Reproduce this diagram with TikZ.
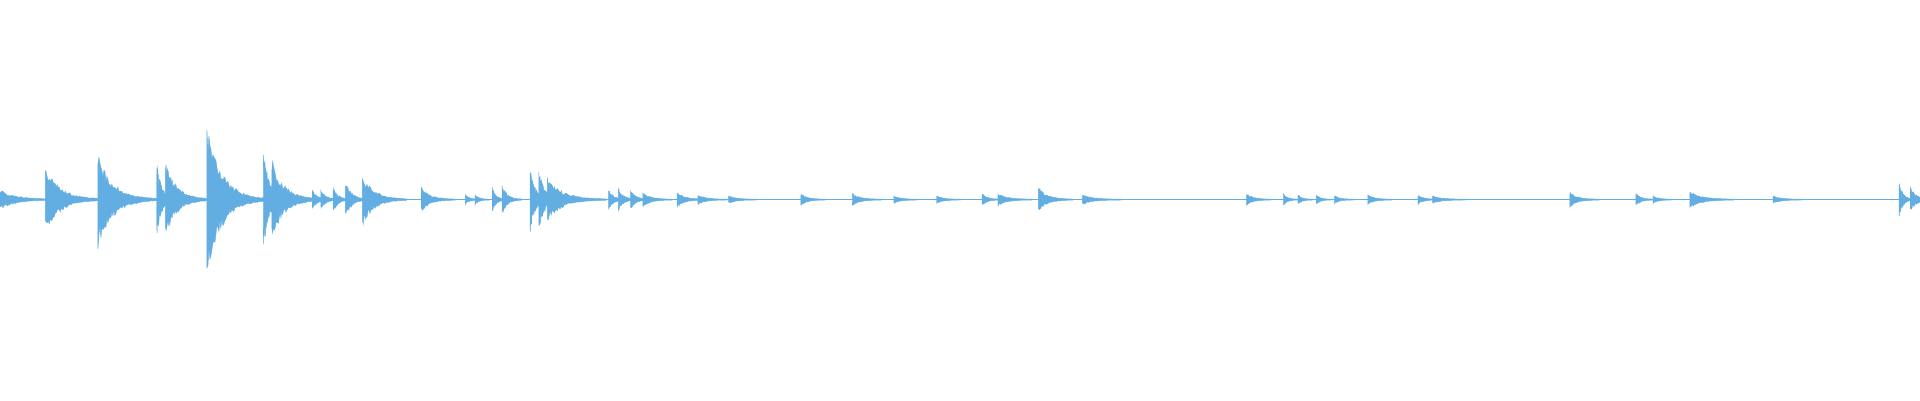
\documentclass[tikz,border=0pt]{standalone}
\usepackage{tikz}
\definecolor{wavecol}{HTML}{62AEE3}
\tikzset{
  wave/.style={fill=wavecol, draw=wavecol, line width=0.1pt}
}
\begin{document}
\begin{tikzpicture}[x=0.1mm, y=0.1mm]
  \useasboundingbox (0,0) rectangle (1568,327);
  \pgfmathsetseed{7}
  % baseline
  \fill[wavecol] (0,163.75) rectangle (1568,164.25);
  % onsets: position / amplitude / decay
  \begin{scope}[shift={(0,164)}]
  \foreach \p/\a/\d in {0/8/12, 37/27/12, 80/40/12, 128/30/4, 135/32/9, 169/62/12,
      215/42/5, 222/33/10, 255/8/4, 262/8/4, 272/10/4, 282/15/5, 296/22/9,
      344/10/7, 380/4/3, 388/4/3, 402/10/3, 410/12/4, 433/27/4, 440/25/5,
      447/18/12, 497/8/4, 505/9/4, 515/8/4, 525/6/6, 553/6/6, 570/4/6,
      595/3/6, 654/5/5, 696/5/6, 730/3/5, 765/3/5, 802/5/4, 815/5/7,
      848/10/7, 884/4/8, 1018/5/5, 1048/5/3, 1060/4/3, 1075/4/3, 1090/3/4,
      1117/4/5, 1158/4/4, 1170/3/7, 1282/6/6, 1336/5/4, 1350/3/4,
      1380/7/9, 1448/3/6, 1551/14/3, 1560/10/5} {
    \fill[wave] plot[domain=0:4*\d, samples=60] ({\p+\x},{\a*exp(-\x/\d)*(0.6+0.4*rnd)+0.3})
      -- plot[domain=4*\d:0, samples=60] ({\p+\x},{-\a*exp(-\x/\d)*(0.6+0.4*rnd)-0.3})
      -- cycle;
  }
  \end{scope}
\end{tikzpicture}
\end{document}
